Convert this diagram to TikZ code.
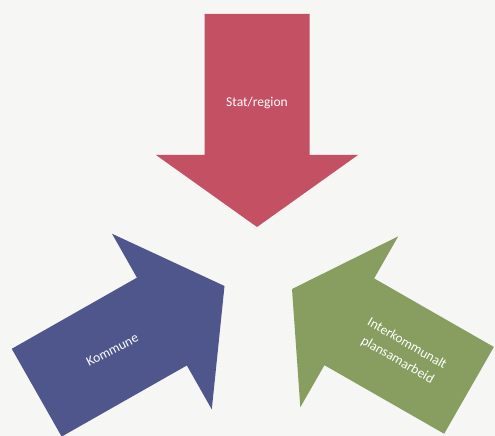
\documentclass[tikz,border=0pt]{standalone}
\usepackage{fontspec}
\setmainfont{Carlito}
\definecolor{bgc}{RGB}{246,246,244}
\definecolor{redA}{RGB}{196,80,100}
\definecolor{blueA}{RGB}{78,86,140}
\definecolor{greenA}{RGB}{135,158,96}
\tikzset{
  lbl/.style={text=white, font=\fontsize{13.5}{16.5}\selectfont, align=center, inner sep=0pt}
}
\begin{document}
\begin{tikzpicture}[x=1pt,y=1pt]
\fill[bgc] (0,0) rectangle (495,436);
\useasboundingbox (0,0) rectangle (495,436);
% red arrow (down)
\begin{scope}[shift={(257,209)}, rotate=-90]
  \fill[redA] (-213,52.5) -- (-72,52.5) -- (-72,101) -- (0,0) -- (-72,-101) -- (-72,-52.5) -- (-213,-52.5) -- cycle;
  \node[lbl] (stat) at (-124,0) {Stat/region};
\end{scope}
% blue arrow (up-right)
\begin{scope}[shift={(224.5,150)}, rotate=29.6]
  \fill[blueA] (-216,50.5) -- (-72,50.5) -- (-72,101) -- (0,0) -- (-72,-101) -- (-72,-50.5) -- (-216,-50.5) -- cycle;
  \node[lbl, rotate=27] (kom) at (-129,0) {Kommune};
\end{scope}
% green arrow (up-left)
\begin{scope}[shift={(292,147)}, rotate=150.2]
  \fill[greenA] (-204,50) -- (-66,50) -- (-66,98.5) -- (0,0) -- (-66,-98.5) -- (-66,-50) -- (-204,-50) -- cycle;
  \node[lbl, font=\fontsize{13.5}{19}\selectfont, rotate=-30] (inter) at (-127,0) {Interkommunalt\\plansamarbeid};
\end{scope}
\end{tikzpicture}
\end{document}
